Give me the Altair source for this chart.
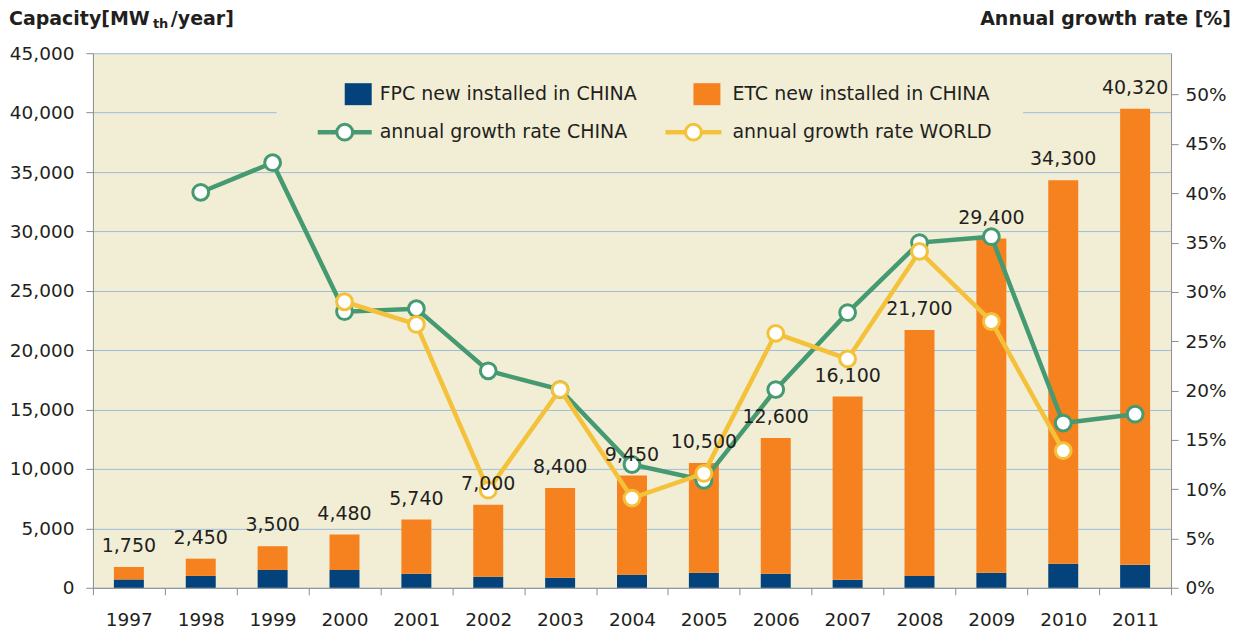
import altair as alt
import pandas as pd

years = [str(y) for y in range(1997, 2012)]
fpc = [700, 1000, 1500, 1500, 1180, 930, 840, 1100, 1260, 1180, 670, 1000, 1260, 2020, 1930]
etc = [1050, 1450, 2000, 2980, 4560, 6070, 7560, 8350, 9240, 11420, 15430, 20700, 28140, 32280, 38390]
totals = [1750, 2450, 3500, 4480, 5740, 7000, 8400, 9450, 10500, 12600, 16100, 21700, 29400, 34300, 40320]
growth_china = [None, 40.1, 43.1, 28.0, 28.3, 22.0, 20.1, 12.5, 10.9, 20.1, 27.9, 35.0, 35.6, 16.7, 17.6]
growth_world = [None, None, None, 29.0, 26.7, 9.9, 20.1, 9.1, 11.6, 25.8, 23.2, 34.1, 27.0, 13.9, None]
series_names = ["FPC new installed in CHINA", "ETC new installed in CHINA",
                "annual growth rate CHINA", "annual growth rate WORLD"]
colors = ["#03427A", "#F5821F", "#459A71", "#F3C13A"]
left_ticks = list(range(0, 45001, 5000))
right_ticks = list(range(0, 51, 5))
left_title = ["Capacity[MW", "th", "/year]"]
right_title = "Annual growth rate [%]"

FONT = "DejaVu Sans"
TXT = "#231F20"
AX = "#8C8C8C"
BG = "#F2EED5"
GRID = "#9DBCDA"
FS = 18.5

W, H = 1079, 535

df_bar = pd.DataFrame({
    "year": years * 2,
    "value": fpc + etc,
    "series": [series_names[0]] * len(years) + [series_names[1]] * len(years),
    "ord": [0] * len(years) + [1] * len(years),
})
df_tot = pd.DataFrame({"year": years, "total": totals})
df_china = pd.DataFrame({"year": years, "rate": growth_china}).dropna()
df_world = pd.DataFrame({"year": years, "rate": growth_world}).dropna()

xscale = alt.Scale(paddingInner=0, paddingOuter=0)
xaxis = alt.Axis(title=None, labelAngle=0, tickBand="extent", labelFont=FONT,
                 labelFontSize=FS, labelColor=TXT, tickSize=7, tickColor=AX,
                 domainColor=AX, labelPadding=16, grid=False)
yl_scale = alt.Scale(domain=[0, 45000], nice=False)
yr_scale = alt.Scale(domain=[0, 54.2], nice=False)
yl_axis = alt.Axis(title=None, values=left_ticks, labelExpr="format(datum.value, ',.0f')",
                   labelFont=FONT,
                   labelFontSize=FS, labelColor=TXT, tickSize=7, tickColor=AX,
                   domainColor=AX, labelPadding=12, grid=True,
                   gridColor=GRID, gridWidth=1)
yr_axis = alt.Axis(title=None, orient="right", values=right_ticks,
                   labelExpr="datum.value + '%'", labelFont=FONT, labelFontSize=FS,
                   labelColor=TXT, tickSize=7, tickColor=AX, domainColor=AX,
                   labelPadding=7, grid=False)

bars = alt.Chart(df_bar).mark_bar(size=30).encode(
    x=alt.X("year:O", scale=xscale, axis=xaxis),
    y=alt.Y("value:Q", stack="zero", scale=yl_scale, axis=yl_axis),
    color=alt.Color("series:N", scale=alt.Scale(domain=series_names[:2], range=colors[:2]),
                    legend=None),
    order=alt.Order("ord:Q"),
)
labels = alt.Chart(df_tot).mark_text(font=FONT, fontSize=FS + 0.5, color=TXT, dy=-15,
                                     baseline="alphabetic").encode(
    x=alt.X("year:O", scale=xscale, axis=xaxis),
    y=alt.Y("total:Q", scale=yl_scale, axis=None),
    text=alt.Text("total:Q", format=","),
)


def line_layers(df, color):
    ln = alt.Chart(df).mark_line(strokeWidth=4.5, color=color).encode(
        x=alt.X("year:O", scale=xscale, axis=xaxis),
        y=alt.Y("rate:Q", scale=yr_scale, axis=yr_axis),
    )
    pt = alt.Chart(df).mark_point(filled=True, fill="white", stroke=color, strokeWidth=3,
                                  size=250, opacity=1).encode(
        x=alt.X("year:O", scale=xscale, axis=xaxis),
        y=alt.Y("rate:Q", scale=yr_scale, axis=yr_axis),
    )
    return [ln, pt]


right = alt.layer(*(line_layers(df_china, colors[2]) + line_layers(df_world, colors[3])))

one = pd.DataFrame({"a": [0]})

legend_bg = alt.Chart(one).mark_rect(color=BG).encode(
    x=alt.value(184), x2=alt.value(931), y=alt.value(9), y2=alt.value(97))


def text_at(s, x, y, size=FS + 0.5, weight="normal", align="left"):
    return alt.Chart(pd.DataFrame({"t": [s]})).mark_text(
        font=FONT, fontSize=size, fontWeight=weight, color=TXT, align=align,
        baseline="middle").encode(text="t:N", x=alt.value(x), y=alt.value(y))


def swatch(color, x0):
    return alt.Chart(one).mark_rect(color=color).encode(
        x=alt.value(x0), x2=alt.value(x0 + 27), y=alt.value(30), y2=alt.value(52))


def line_key(color, x0, x1, xc):
    ln = alt.Chart(one).mark_rule(color=color, strokeWidth=4.5).encode(
        x=alt.value(x0), x2=alt.value(x1), y=alt.value(79))
    pt = alt.Chart(one).mark_point(filled=True, fill="white", stroke=color, strokeWidth=3,
                                   size=250, opacity=1).encode(x=alt.value(xc), y=alt.value(79))
    return [ln, pt]


legend = [legend_bg,
          swatch(colors[0], 252), text_at(series_names[0], 287, 41),
          swatch(colors[1], 601), text_at(series_names[1], 640, 41)]
legend += line_key(colors[2], 225, 279, 252) + [text_at(series_names[2], 287, 79)]
legend += line_key(colors[3], 573, 629, 601) + [text_at(series_names[3], 640, 79)]

titles = [text_at(left_title[0], -84, -34, 19, "bold"),
          text_at(left_title[1], 60, -29, 13, "bold"),
          text_at(left_title[2], 78, -34, 19, "bold"),
          text_at(right_title, 1139, -34, 19, "bold", "right")]

chart = alt.layer(bars, right, labels, *legend, *titles).resolve_scale(y="independent").properties(
    width=W, height=H,
    autosize=alt.AutoSizeParams(type="none"),
    padding={"left": 85, "top": 45, "right": 68, "bottom": 45},
).configure_view(fill=BG, stroke=None)

chart.save("out.html", embed_options={"renderer": "svg", "actions": False})
